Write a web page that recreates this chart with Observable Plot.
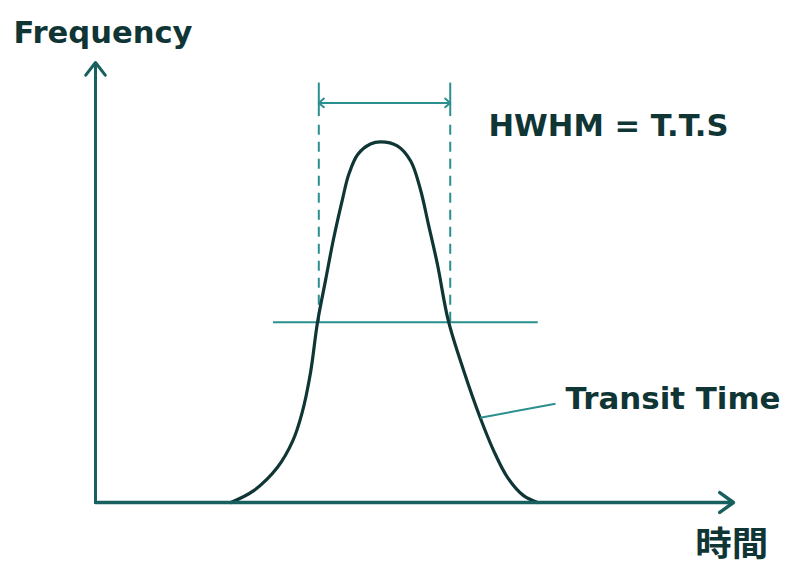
<!DOCTYPE html>
<html>
<head>
<meta charset="utf-8">
<script src="https://cdn.jsdelivr.net/npm/d3@7"></script>
<script src="https://cdn.jsdelivr.net/npm/@observablehq/plot@0.6"></script>
<style>
  html, body { margin: 0; padding: 0; background: #ffffff; }
  svg { display: block; }
</style>
</head>
<body>
<div id="chart"></div>
<script>
// Transit-time distribution (time units along x, relative frequency along y)
const curveTime = [2.12, 2.48, 2.85, 3.09, 3.24, 3.37, 3.48, 3.61, 3.73, 3.87, 3.97, 4.11, 4.31, 4.47,
                   4.73, 4.94, 5.09, 5.22, 5.36, 5.53, 5.77, 6.03, 6.24, 6.46, 6.71, 6.93];
const curveFreq = [0, 0.033, 0.097, 0.17, 0.25, 0.36, 0.50, 0.62, 0.73, 0.84, 0.91, 0.965, 0.994, 1.0,
                   0.989, 0.947, 0.87, 0.77, 0.66, 0.504, 0.366, 0.235, 0.144, 0.069, 0.019, 0];
const halfMax = 0.5;
const halfLineTime = [2.79, 6.94];
const fwhmEdges = [3.50, 5.56];
const labels = {
  yAxis: "Frequency",
  xAxis: "時間",
  width: "HWHM = T.T.S",
  curve: "Transit Time"
};

const curve = curveTime.map((t, i) => ({t, f: curveFreq[i]}));
const dark = "#0f3535";
const axisCol = "#17605f";
const thin = "#2a8f8e";
const font = "DejaVu Sans, Liberation Sans, sans-serif";

const arrowY = 1.108;
const mid = (fwhmEdges[0] + fwhmEdges[1]) / 2;

const chart = Plot.plot({
  width: 792,
  height: 571,
  marginLeft: 95,
  marginRight: 59,
  marginTop: 62,
  marginBottom: 69,
  x: {domain: [0, 10], axis: null},
  y: {domain: [0, 1.22], axis: null},
  style: {background: "#ffffff"},
  marks: [
    // half-maximum horizontal line
    Plot.ruleY([halfMax], {x1: halfLineTime[0], x2: halfLineTime[1], stroke: thin, strokeWidth: 2}),
    // dashed verticals at FWHM edges
    Plot.ruleX(fwhmEdges, {y1: halfMax, y2: 1.06, stroke: thin, strokeWidth: 2, strokeDasharray: "10,7"}),
    Plot.ruleX(fwhmEdges, {y1: 1.07, y2: 1.163, stroke: thin, strokeWidth: 2}),
    // double-headed width arrow
    Plot.arrow([0], {x1: mid, y1: arrowY, x2: fwhmEdges[0], y2: arrowY, stroke: thin, strokeWidth: 2, headLength: 5, headAngle: 80}),
    Plot.arrow([0], {x1: mid, y1: arrowY, x2: fwhmEdges[1], y2: arrowY, stroke: thin, strokeWidth: 2, headLength: 5, headAngle: 80}),
    // curve
    Plot.line(curve, {x: "t", y: "f", curve: "catmull-rom", stroke: dark, strokeWidth: 3.2}),
    // leader line for "Transit Time"
    Plot.link([0], {x1: curveTime[21], y1: curveFreq[21], x2: 7.21, y2: 0.274, stroke: thin, strokeWidth: 2}),
    // axes with arrowheads
    Plot.arrow([0], {x1: 0, y1: 0, x2: 0, y2: 1.22, stroke: axisCol, strokeWidth: 3, headLength: 8, headAngle: 75}),
    Plot.arrow([0], {x1: 0, y1: 0, x2: 10, y2: 0, stroke: axisCol, strokeWidth: 3.4, headLength: 7.5, headAngle: 72}),
    // labels
    Plot.text([labels.yAxis], {x: -1.285, y: 1.301, text: d => d, textAnchor: "start", fontSize: 30, fontWeight: "bold", fontFamily: font, fill: dark}),
    Plot.text([labels.width], {x: 6.16, y: 1.043, text: d => d, textAnchor: "start", fontSize: 30, fontWeight: "bold", fontFamily: font, fill: dark}),
    Plot.text([labels.curve], {x: 7.367, y: 0.287, text: d => d, textAnchor: "start", fontSize: 30, fontWeight: "bold", fontFamily: font, fill: dark}),
    Plot.text([labels.xAxis], {x: 9.40, y: -0.119, text: d => d, textAnchor: "start", fontSize: 34, fontWeight: "bold", fontFamily: "Noto Sans CJK JP, sans-serif", fill: dark})
  ]
});

// stretch label widths to the measured lengths
const lengths = {"Frequency": 179, "HWHM = T.T.S": 240, "Transit Time": 215, "時間": 73};
d3.select(chart).selectAll("text").each(function () {
  const L = lengths[this.textContent];
  if (L) {
    this.setAttribute("textLength", L);
    this.setAttribute("lengthAdjust", "spacingAndGlyphs");
  }
});

document.getElementById("chart").appendChild(chart);
</script>
</body>
</html>
